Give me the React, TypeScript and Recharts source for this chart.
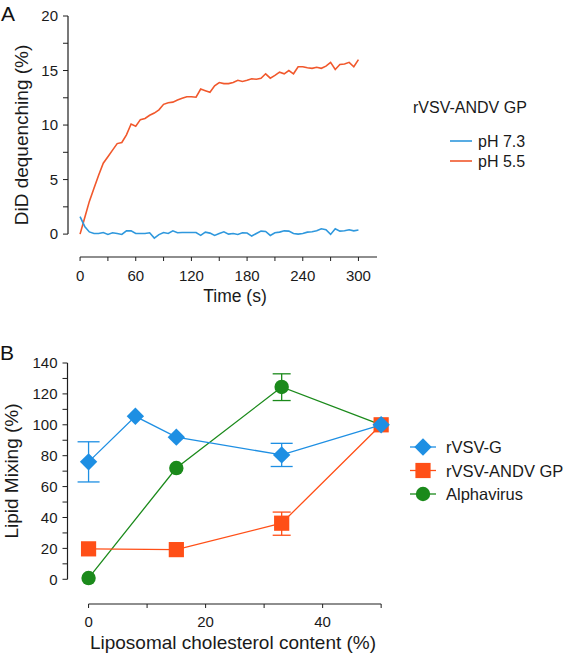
import React from 'react';
import {
  LineChart,
  Line,
  XAxis,
  YAxis,
  ReferenceLine,
  Legend,
  ScatterChart,
  Scatter,
  ErrorBar,
} from 'recharts';

const FONT = '"Liberation Sans", Arial, Helvetica, sans-serif';
const AXIS = '#1e1e1e';

// ---------- Panel A data ----------
const timeSeconds = [
  0, 5, 10, 15, 20, 25, 30, 35, 40, 45, 50, 55, 60, 65, 70, 75, 80, 85, 90, 95,
  100, 105, 110, 115, 120, 125, 130, 135, 140, 145, 150, 155, 160, 165, 170, 175,
  180, 185, 190, 195, 200, 205, 210, 215, 220, 225, 230, 235, 240, 245, 250, 255,
  260, 265, 270, 275, 280, 285, 290, 295, 300,
];
const dequenchPH73 = [
  1.6, 0.7, 0.2, 0.05, 0.05, 0.15, -0.03, 0.12, 0.05, -0.03, 0.3, 0.3, 0.06, 0.06,
  0.06, 0.12, -0.37, -0.05, 0.15, 0.06, 0.3, 0.12, 0.15, 0.15, 0.15, 0.15, -0.12,
  0.18, 0.09, -0.12, 0.06, 0.21, 0.0, 0.06, -0.03, 0.12, 0.1, -0.18, 0.06, 0.27,
  0.24, -0.12, 0.12, 0.18, 0.3, 0.27, 0.05, 0.0, 0.06, 0.18, 0.21, 0.3, 0.49, 0.4,
  -0.03, 0.49, 0.27, 0.3, 0.4, 0.3, 0.37,
];
const dequenchPH55 = [
  0, 1.5, 3.0, 4.2, 5.4, 6.5, 7.1, 7.7, 8.3, 8.4, 9.1, 10.1, 9.9, 10.5, 10.6, 10.9,
  11.1, 11.4, 11.9, 12.05, 12.1, 12.3, 12.45, 12.6, 12.6, 12.55, 13.3, 13.15, 13.0,
  13.6, 13.9, 13.8, 13.8, 13.9, 14.1, 14.0, 14.1, 14.25, 14.2, 14.28, 14.7, 14.3,
  14.55, 14.85, 14.7, 15.0, 14.7, 15.35, 15.35, 15.25, 15.2, 15.3, 15.2, 15.4,
  15.75, 15.1, 15.55, 15.6, 15.75, 15.35, 16.0,
];
const timeTicks = [0, 30, 60, 90, 120, 150, 180, 210, 240, 270, 300];
const dequenchTicks = [0, 2.5, 5, 7.5, 10, 12.5, 15, 17.5, 20];
const legendTitleA = 'rVSV-ANDV GP';
const seriesA = [
  { key: 'ph73', name: 'pH 7.3', color: '#2f98dd' },
  { key: 'ph55', name: 'pH 5.5', color: '#f1582c' },
];

// ---------- Panel B data ----------
const cholVSVG = [0, 8, 15, 33, 50];
const mixVSVG = [76, 105.5, 92, 80.5, 100];
const errLoVSVG = [63, null, null, 73, null];
const errHiVSVG = [89, null, null, 88, null];

const cholANDV = [0, 15, 33, 50];
const mixANDV = [19.7, 19.2, 36.3, 100];
const errLoANDV = [null, null, 28.5, null];
const errHiANDV = [null, null, 43.5, null];

const cholAlpha = [0, 15, 33, 50];
const mixAlpha = [0.8, 72, 124.5, 100];
const errLoAlpha = [null, null, 115.7, null];
const errHiAlpha = [null, null, 133, null];

const mixTicks = [0, 10, 20, 30, 40, 50, 60, 70, 80, 90, 100, 110, 120, 130, 140];
const cholTicks = [0, 10, 20, 30, 40, 50];

const seriesB = [
  { name: 'rVSV-G', color: '#1e8fe3', marker: 'diamond' },
  { name: 'rVSV-ANDV GP', color: '#ff4f17', marker: 'square' },
  { name: 'Alphavirus', color: '#1b8a1b', marker: 'circle' },
];

// ---------- build tables ----------
const dataA = timeSeconds.map((t, i) => ({ t, ph73: dequenchPH73[i], ph55: dequenchPH55[i] }));

const buildB = (xs: number[], ys: number[], lo: (number | null)[], hi: (number | null)[]) =>
  xs.map((x, i) => ({
    x,
    y: ys[i],
    err: lo[i] == null || hi[i] == null ? undefined : [ys[i] - (lo[i] as number), (hi[i] as number) - ys[i]],
  }));

const dataVSVG = buildB(cholVSVG, mixVSVG, errLoVSVG, errHiVSVG);
const dataANDV = buildB(cholANDV, mixANDV, errLoANDV, errHiANDV);
const dataAlpha = buildB(cholAlpha, mixAlpha, errLoAlpha, errHiAlpha);

// ---------- markers ----------
const markerEl = (kind: string, cx: number, cy: number, color: string) => {
  if (kind === 'diamond') {
    const r = 8.7;
    return <polygon points={`${cx},${cy - r} ${cx + r},${cy} ${cx},${cy + r} ${cx - r},${cy}`} fill={color} />;
  }
  if (kind === 'square') {
    const h = 7.6;
    return <rect x={cx - h} y={cy - h} width={h * 2} height={h * 2} fill={color} />;
  }
  return <circle cx={cx} cy={cy} r={7.2} fill={color} />;
};

const shapeFor = (kind: string, color: string) => (props: any) => {
  const { cx, cy } = props;
  if (cx == null || cy == null) return <g />;
  return markerEl(kind, cx, cy, color);
};

const tickStyle = { fill: '#1a1a1a', fontSize: 15, fontFamily: FONT };

const LegendA = () => (
  <svg width={140} height={80} style={{ overflow: 'visible', display: 'block' }}>
    <text x={3} y={18} fontSize={16} fontFamily={FONT} fill="#1a1a1a">
      {legendTitleA}
    </text>
    {seriesA.map((s, i) => (
      <g key={s.key}>
        <line x1={40} x2={62} y1={46 + i * 20} y2={46 + i * 20} stroke={s.color} strokeWidth={1.6} />
        <text x={68} y={51.5 + i * 20} fontSize={16} fontFamily={FONT} fill="#1a1a1a">
          {s.name}
        </text>
      </g>
    ))}
  </svg>
);

const LegendB = () => (
  <svg width={166} height={80} style={{ overflow: 'visible', display: 'block' }}>
    {seriesB.map((s, i) => {
      const cy = 13 + i * 23.5;
      return (
        <g key={s.name}>
          <line x1={10} x2={36} y1={cy} y2={cy} stroke={s.color} strokeWidth={1.3} />
          {markerEl(s.marker, 23, cy, s.color)}
          <text x={46} y={cy + 6} fontSize={16.5} fontFamily={FONT} fill="#1a1a1a">
            {s.name}
          </text>
        </g>
      );
    })}
  </svg>
);

export default function App() {
  return (
    <div style={{ position: 'absolute', left: 0, top: 0, width: 566, height: 654, background: '#fff', overflow: 'hidden' }}>
      {/* Panel A */}
      <div style={{ position: 'absolute', left: 0, top: 0 }}>
        <LineChart width={566} height={320} data={dataA} margin={{ top: 16, right: 189, bottom: 23, left: 28 }}>
          <XAxis
            dataKey="t"
            type="number"
            domain={[-13, 320]}
            ticks={timeTicks}
            interval={0}
            tickFormatter={(v: number) => (v % 60 === 0 ? String(v) : '')}
            axisLine={false}
            tickLine={{ stroke: AXIS }}
            tickSize={4}
            tickMargin={9}
            height={40}
            tick={tickStyle}
          />
          <YAxis
            type="number"
            domain={[-2.1, 20]}
            ticks={dequenchTicks}
            interval={0}
            tickFormatter={(v: number) => (v % 5 === 0 ? String(v) : '')}
            axisLine={false}
            tickLine={{ stroke: AXIS }}
            tickSize={5}
            tickMargin={5}
            width={40}
            tick={tickStyle}
          />
          <ReferenceLine segment={[{ x: 0, y: -2.1 }, { x: 320, y: -2.1 }]} stroke={AXIS} strokeWidth={1.2} ifOverflow="visible" />
          <ReferenceLine segment={[{ x: -13, y: 0 }, { x: -13, y: 20 }]} stroke={AXIS} strokeWidth={1.2} ifOverflow="visible" />
          <Line type="linear" dataKey="ph55" name="pH 5.5" stroke={seriesA[1].color} strokeWidth={1.6} dot={false} isAnimationActive={false} />
          <Line type="linear" dataKey="ph73" name="pH 7.3" stroke={seriesA[0].color} strokeWidth={1.6} dot={false} isAnimationActive={false} />
          <Legend
            layout="horizontal"
            verticalAlign="middle"
            align="center"
            content={() => <LegendA />}
            wrapperStyle={{ left: 410, top: 95, width: 150, height: 80 }}
          />
        </LineChart>
      </div>

      {/* Panel B */}
      <div style={{ position: 'absolute', left: 0, top: 334 }}>
        <ScatterChart width={566} height={320} margin={{ top: 29, right: 179, bottom: 10, left: 27.5 }}>
          <XAxis
            dataKey="x"
            type="number"
            domain={[-3.6, 51]}
            ticks={cholTicks}
            interval={0}
            tickFormatter={(v: number) => (v % 20 === 0 ? String(v) : '')}
            axisLine={false}
            tickLine={{ stroke: AXIS }}
            tickSize={4}
            tickMargin={8}
            height={40}
            tick={tickStyle}
          />
          <YAxis
            dataKey="y"
            type="number"
            domain={[-16, 140]}
            ticks={mixTicks}
            interval={0}
            tickFormatter={(v: number) => (v % 20 === 0 ? String(v) : '')}
            axisLine={false}
            tickLine={{ stroke: AXIS }}
            tickSize={5}
            tickMargin={5}
            width={40}
            tick={tickStyle}
          />
          <ReferenceLine segment={[{ x: 0, y: -16 }, { x: 50, y: -16 }]} stroke={AXIS} strokeWidth={1.2} ifOverflow="visible" />
          <ReferenceLine segment={[{ x: -3.6, y: 0 }, { x: -3.6, y: 140 }]} stroke={AXIS} strokeWidth={1.2} ifOverflow="visible" />
          <Scatter
            name="Alphavirus"
            data={dataAlpha}
            fill={seriesB[2].color}
            stroke={seriesB[2].color}
            line={{ stroke: seriesB[2].color, strokeWidth: 1.3 }}
            shape={shapeFor('circle', seriesB[2].color)}
            isAnimationActive={false}
          >
            <ErrorBar dataKey="err" direction="y" width={9} stroke={seriesB[2].color} strokeWidth={1.3} />
          </Scatter>
          <Scatter
            name="rVSV-ANDV GP"
            data={dataANDV}
            fill={seriesB[1].color}
            stroke={seriesB[1].color}
            line={{ stroke: seriesB[1].color, strokeWidth: 1.3 }}
            shape={shapeFor('square', seriesB[1].color)}
            isAnimationActive={false}
          >
            <ErrorBar dataKey="err" direction="y" width={9} stroke={seriesB[1].color} strokeWidth={1.3} />
          </Scatter>
          <Scatter
            name="rVSV-G"
            data={dataVSVG}
            fill={seriesB[0].color}
            stroke={seriesB[0].color}
            line={{ stroke: seriesB[0].color, strokeWidth: 1.3 }}
            shape={shapeFor('diamond', seriesB[0].color)}
            isAnimationActive={false}
          >
            <ErrorBar dataKey="err" direction="y" width={11} stroke={seriesB[0].color} strokeWidth={1.3} />
          </Scatter>
          <Legend
            layout="horizontal"
            verticalAlign="middle"
            align="center"
            content={() => <LegendB />}
            wrapperStyle={{ left: 400, top: 100, width: 166, height: 80 }}
          />
        </ScatterChart>
      </div>

      {/* Panel letters and axis titles */}
      <svg width={566} height={654} style={{ position: 'absolute', left: 0, top: 0, pointerEvents: 'none' }}>
        <text x={1} y={20.5} fontSize={21} fontFamily={FONT} fill="#111">A</text>
        <text x={0} y={360} fontSize={21} fontFamily={FONT} fill="#111">B</text>
        <text
          transform="translate(28,135) rotate(-90)"
          textAnchor="middle"
          fontSize={19}
          fontFamily={FONT}
          fill="#1a1a1a"
        >
          DiD dequenching (%)
        </text>
        <text x={235} y={302} textAnchor="middle" fontSize={17.5} fontFamily={FONT} fill="#1a1a1a">
          Time (s)
        </text>
        <text
          transform="translate(18,471) rotate(-90)"
          textAnchor="middle"
          fontSize={19}
          fontFamily={FONT}
          fill="#1a1a1a"
        >
          Lipid Mixing (%)
        </text>
        <text x={233} y={649} textAnchor="middle" fontSize={19} fontFamily={FONT} fill="#1a1a1a">
          Liposomal cholesterol content (%)
        </text>
      </svg>
    </div>
  );
}
